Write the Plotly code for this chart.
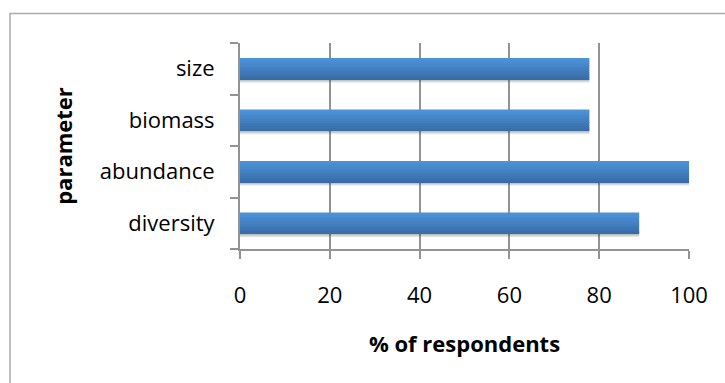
import plotly.graph_objects as go

# Survey results: share of respondents naming each parameter
categories = ["diversity", "abundance", "biomass", "size"]
pct_respondents = [88.9, 100.0, 77.8, 77.8]
x_ticks = [0, 20, 40, 60, 80, 100]

W, H = 725, 383
L, R, T, B = 240, 36, 43, 134

BAR_W = 0.416
TOP_COLOR = (76, 146, 216)
BOTTOM_COLOR = (56, 108, 166)


def mix(c1, c2, t):
    return "rgb({},{},{})".format(*[round(a + (b - a) * t) for a, b in zip(c1, c2)])


fig = go.Figure()

# soft drop shadow under each bar
for off, w, a in [(-0.27, 0.12, 0.10), (-0.25, 0.10, 0.12), (-0.235, 0.08, 0.14)]:
    fig.add_trace(go.Bar(
        y=categories, x=pct_respondents, orientation="h",
        offset=off, width=w,
        marker=dict(color=f"rgba(60,60,60,{a})", line=dict(width=0)),
        hoverinfo="skip", showlegend=False,
    ))

# vertical gradient built from stacked bands (dark bottom -> light top)
N = 12
band = BAR_W / N
for i in range(N):
    fig.add_trace(go.Bar(
        y=categories, x=pct_respondents, orientation="h",
        offset=-BAR_W / 2 + i * band, width=band * 1.02,
        marker=dict(color=mix(BOTTOM_COLOR, TOP_COLOR, i / (N - 1)), line=dict(width=0)),
        hoverinfo="skip" if i else None, showlegend=False,
    ))

GRID = "#939393"
fig.update_layout(
    width=W, height=H,
    margin=dict(l=L, r=R, t=T, b=B),
    paper_bgcolor="white", plot_bgcolor="white",
    barmode="overlay",
    showlegend=False,
    font=dict(family="Open Sans", color="#000000"),
    xaxis=dict(
        range=[0, 100], tickvals=x_ticks, ticktext=[str(v) for v in x_ticks],
        showgrid=True, gridcolor=GRID, gridwidth=2,
        zeroline=False,
        showline=True, linecolor=GRID, linewidth=2,
        ticks="outside", ticklen=8, tickwidth=2, tickcolor=GRID,
        tickfont=dict(size=22, family="Open Sans"),
        ticklabelstandoff=18,
        title=dict(text="<b>% of respondents</b>", font=dict(size=22, family="Open Sans"), standoff=28),
    ),
    yaxis=dict(
        type="category", categoryorder="array", categoryarray=categories,
        range=[-0.5, 3.5],
        showgrid=False, zeroline=False,
        showline=True, linecolor=GRID, linewidth=2,
        ticks="outside", tickson="boundaries", ticklen=8, tickwidth=2, tickcolor=GRID,
        tickfont=dict(size=22, family="Open Sans"),
        ticklabelstandoff=19,
        title=dict(text="<b>parameter</b>", font=dict(size=22, family="Open Sans"), standoff=21),
    ),
)

# outer chart border (runs off the right and bottom edges)
pw, ph = W - L - R, H - T - B
fig.add_shape(
    type="rect", xref="paper", yref="paper", layer="below",
    x0=(10 - L) / pw, x1=(W + 20 - L) / pw,
    y0=(H - B - (H + 20)) / ph, y1=(H - B - 13.5) / ph,
    line=dict(color="#ababab", width=1.5), fillcolor="rgba(0,0,0,0)",
)

fig.write_html("out.html")
